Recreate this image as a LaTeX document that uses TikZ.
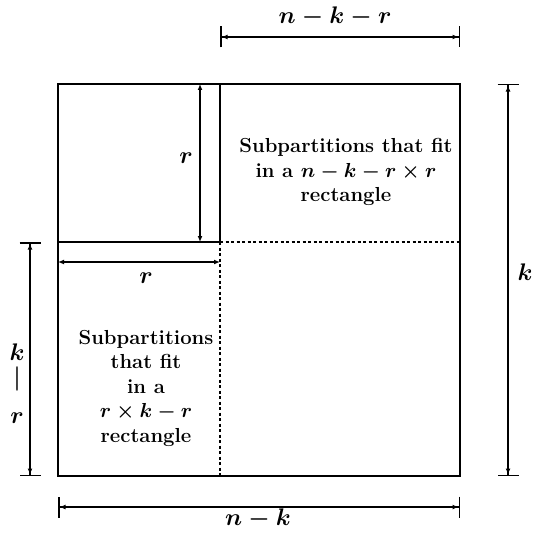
\RequirePackage{fix-cm}
\documentclass[tikz,border=0pt]{standalone}
\usetikzlibrary{arrows.meta}
\begin{document}
\begin{tikzpicture}[x=1pt,y=-1pt,
  frame/.style={line width=1.6pt},
  dotline/.style={line width=1.4pt, dash pattern=on 3pt off 2.5pt},
  dimbar/.style={line width=1.2pt,
    {Bar[width=21pt,line width=1.5pt,sep=0pt]Latex[length=6pt,width=5pt]}-{Latex[length=6pt,width=5pt]Bar[width=21pt,line width=1.5pt,sep=0pt]}},
  dimplain/.style={line width=1.2pt, {Latex[length=6pt,width=5pt]}-{Latex[length=6pt,width=5pt]}},
  body/.style={align=center, font=\fontsize{20.3}{24.5}\selectfont\bfseries\boldmath, inner sep=0pt},
  lab/.style={font=\fontsize{24}{27}\selectfont\boldmath, inner sep=0pt}
]
\useasboundingbox (0,0) rectangle (534,532);
% corners and split points
\coordinate (TL) at (58,84);
\coordinate (TR) at (460,84);
\coordinate (BR) at (460,476);
\coordinate (BL) at (58,476);
\coordinate (TM) at (220,84);
\coordinate (ML) at (58,242);
\coordinate (MM) at (220,242);
\coordinate (MR) at (460,242);
\coordinate (BM) at (220,476);
% frame
\draw[frame] (TL) -- (TR) -- (BR) -- (BL) -- cycle;
\draw[frame] (TM) -- (MM) -- (ML);
\draw[dotline] (MM) -- (MR);
\draw[dotline] (MM) -- (BM);
% inner r arrows
\coordinate (rv1) at (200,84);
\coordinate (rv2) at (200,242);
\draw[dimplain] (rv1) -- (rv2);
\coordinate (rh1) at (58,262);
\coordinate (rh2) at (220,262);
\draw[dimplain] (rh1) -- (rh2);
\node[lab] (rvl) at (186,158) {$r$};
\node[lab] (rhl) at (146,278) {$r$};
% dimension lines
\coordinate (t1) at (220,37);
\coordinate (t2) at (460,37);
\draw[dimbar] (t1) -- (t2);
\node[lab] (tl) at (335,17) {$n-k-r$};
\coordinate (b1) at (58,507);
\coordinate (b2) at (460,507);
\draw[dimbar] (b1) -- (b2);
\node[lab] (bl) at (258,519) {$n-k$};
\coordinate (l1) at (30,242);
\coordinate (l2) at (30,476);
\draw[dimbar] (l1) -- (l2);
\node[lab, align=center] (ll) at (17,384) {$k$\\[2pt]\rotatebox{90}{\scalebox{1.45}[1]{$-$}}\\[2pt]$r$};
\coordinate (r1) at (508,84);
\coordinate (r2) at (508,476);
\draw[dimbar] (r1) -- (r2);
\node[lab] (rl) at (525,272) {$k$};
% texts
\node[body] (txt1) at (346,172) {Subpartitions that fit\\in a $n-k-r\times r$\\rectangle};
\node[body] (txt2) at (146,388) {Subpartitions\\that fit\\in a\\$r\times k-r$\\rectangle};
\end{tikzpicture}
\end{document}
